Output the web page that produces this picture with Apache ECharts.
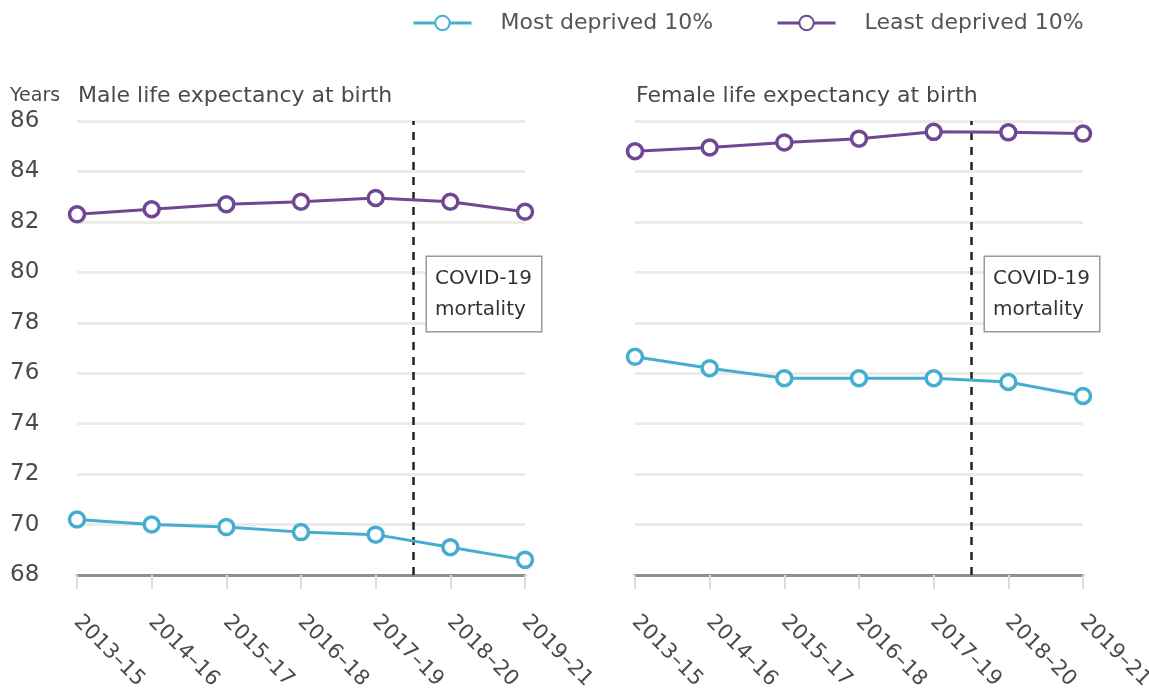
<!DOCTYPE html>
<html>
<head>
<meta charset="utf-8">
<style>
  html, body { margin: 0; padding: 0; background: #fff; }
  #chart { width: 1149px; height: 693px; }
</style>
<script src="https://cdn.jsdelivr.net/npm/echarts@6/dist/echarts.min.js"></script>
</head>
<body>
<div id="chart"></div>
<script>
// periods on the x axis
const periods = ['2013–15', '2014–16', '2015–17', '2016–18', '2017–19', '2018–20', '2019–21']
const yTicks = [68, 70, 72, 74, 76, 78, 80, 82, 84, 86]

// life expectancy, years
const maleMost = [70.2, 70.0, 69.9, 69.7, 69.6, 69.1, 68.6]
const maleLeast = [82.3, 82.5, 82.7, 82.8, 82.95, 82.8, 82.4]
const femaleMost = [76.65, 76.2, 75.8, 75.8, 75.8, 75.65, 75.1]
const femaleLeast = [84.8, 84.95, 85.15, 85.3, 85.57, 85.55, 85.5]

const covidAt = 4.5 // between 2017–19 and 2018–20
const covidLabel = 'COVID-19\nmortality'

const BLUE = '#45aed0'
const PURPLE = '#6f4894'
const FONT = '"DejaVu Sans", sans-serif'
const TEXT = '#4a4a4a'

const chart = echarts.init(document.getElementById('chart'))

function xAxis(gridIndex) {
  return {
    type: 'value',
    gridIndex,
    min: 0,
    max: periods.length - 1,
    interval: 1,
    axisLine: { show: true, lineStyle: { color: '#8f8f8b', width: 3 } },
    axisTick: { show: true, length: 14, lineStyle: { color: '#dcdcd4', width: 2 } },
    splitLine: { show: false },
    axisLabel: {
      rotate: -45,
      margin: 44,
      fontSize: 21,
      fontFamily: FONT,
      color: TEXT,
      formatter: v => periods[v] || ''
    }
  }
}

function yAxis(gridIndex, showLabels) {
  return {
    type: 'value',
    gridIndex,
    min: yTicks[0],
    max: yTicks[yTicks.length - 1],
    interval: 2,
    axisLine: { show: false },
    axisTick: { show: false },
    splitLine: { lineStyle: { color: '#ebebe7', width: 3 } },
    axisLabel: {
      show: showLabels,
      margin: 67,
      align: 'left',
      fontSize: 23,
      fontFamily: FONT,
      color: TEXT
    }
  }
}

function lineSeries(name, data, color, idx, withCovid) {
  const s = {
    name,
    type: 'line',
    xAxisIndex: idx,
    yAxisIndex: idx,
    data: data.map((v, i) => [i, v]),
    symbol: 'circle',
    symbolSize: 15,
    lineStyle: { color, width: 3 },
    itemStyle: { color: '#fff', borderColor: color, borderWidth: 3.5 },
    emphasis: { disabled: true },
    z: 3
  }
  if (withCovid) {
    s.markLine = {
      silent: true,
      symbol: 'none',
      label: { show: false },
      lineStyle: { color: '#222', width: 2.5, type: [8, 7] },
      data: [{ xAxis: covidAt }],
      z: 2
    }
    s.markPoint = {
      silent: true,
      symbol: 'circle',
      symbolSize: 0,
      data: [{ coord: [covidAt, 79.14] }],
      label: {
        show: true,
        position: 'right',
        distance: 14,
        formatter: covidLabel,
        align: 'left',
        fontSize: 20,
        lineHeight: 31,
        fontFamily: FONT,
        color: '#333',
        backgroundColor: '#fff',
        borderColor: '#9a9a9a',
        borderWidth: 1.5,
        padding: [6, 9, 6, 8]
      }
    }
  }
  return s
}

const titleText = { fontWeight: 'normal', color: TEXT, fontFamily: FONT }

const option = {
  animation: false,
  textStyle: { fontFamily: FONT },
  title: [
    { text: 'Years', left: 10, top: 87, padding: 0, textStyle: { ...titleText, fontSize: 19 } },
    { text: 'Male life expectancy at birth', left: 78, top: 85, padding: 0, textStyle: { ...titleText, fontSize: 22 } },
    { text: 'Female life expectancy at birth', left: 636, top: 85, padding: 0, textStyle: { ...titleText, fontSize: 22 } }
  ],
  legend: {
    top: 12,
    left: 412,
    padding: 0,
    itemWidth: 58,
    itemHeight: 18,
    itemGap: 63,
    lineStyle: { width: 3 },
    textStyle: { fontSize: 22, color: '#555', fontFamily: FONT, padding: [0, 0, 0, 24] },
    data: ['Most deprived 10%', 'Least deprived 10%']
  },
  grid: [
    { left: 77, top: 121, width: 448, height: 454, outerBoundsMode: 'none' },
    { left: 635, top: 121, width: 448, height: 454, outerBoundsMode: 'none' }
  ],
  xAxis: [xAxis(0), xAxis(1)],
  yAxis: [yAxis(0, true), yAxis(1, false)],
  series: [
    lineSeries('Most deprived 10%', maleMost, BLUE, 0, true),
    lineSeries('Least deprived 10%', maleLeast, PURPLE, 0, false),
    lineSeries('Most deprived 10%', femaleMost, BLUE, 1, true),
    lineSeries('Least deprived 10%', femaleLeast, PURPLE, 1, false)
  ]
}

chart.setOption(option)
</script>
</body>
</html>
